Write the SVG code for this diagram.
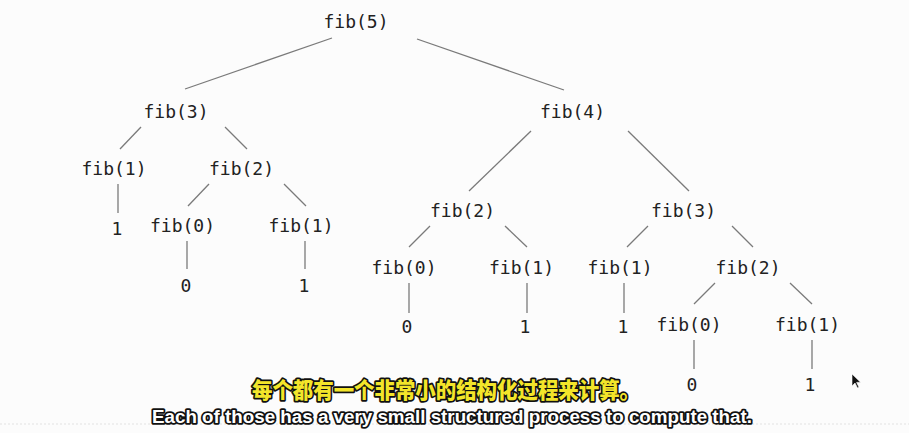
<svg xmlns="http://www.w3.org/2000/svg" width="909" height="433" viewBox="0 0 909 433">
<style>
.n{font-family:"DejaVu Sans Mono","Liberation Mono",monospace;font-size:18px;fill:#222;text-anchor:middle}
.e{stroke:#7a7a7a;stroke-width:1.3;fill:none}
.zh{font-family:"Noto Sans CJK SC","DejaVu Sans",sans-serif;font-weight:900;font-size:22px;fill:#f3e52a;stroke:#111;stroke-width:3.5;paint-order:stroke;stroke-linejoin:round;text-anchor:middle}
.en{font-family:"Liberation Sans","DejaVu Sans",sans-serif;font-weight:bold;font-size:18px;fill:#fff;stroke:#111;stroke-width:3.5;paint-order:stroke;stroke-linejoin:round;text-anchor:middle}
</style>
<rect width="909" height="433" fill="#fcfcfc"/>
<line x1="0" y1="424" x2="909" y2="424" stroke="#e2e2e2" stroke-width="1" stroke-dasharray="2,2"/>
<g id="connectors">
<line class="e" x1="332" y1="38" x2="185" y2="89"/>
<line class="e" x1="417" y1="39" x2="564" y2="90"/>
<line class="e" x1="141" y1="127" x2="120" y2="149"/>
<line class="e" x1="225" y1="127" x2="247" y2="149"/>
<line class="e" x1="118" y1="184" x2="118" y2="213"/>
<line class="e" x1="209" y1="184" x2="188" y2="206"/>
<line class="e" x1="284" y1="184" x2="306" y2="206"/>
<line class="e" x1="187" y1="241" x2="187" y2="269"/>
<line class="e" x1="305" y1="241" x2="305" y2="269"/>
<line class="e" x1="531" y1="131" x2="469" y2="191"/>
<line class="e" x1="628" y1="131" x2="689" y2="191"/>
<line class="e" x1="430" y1="226" x2="409" y2="247"/>
<line class="e" x1="505" y1="226" x2="527" y2="247"/>
<line class="e" x1="648" y1="226" x2="627" y2="247"/>
<line class="e" x1="732" y1="226" x2="753" y2="247"/>
<line class="e" x1="409" y1="283" x2="409" y2="313"/>
<line class="e" x1="527" y1="283" x2="527" y2="313"/>
<line class="e" x1="624" y1="283" x2="624" y2="313"/>
<line class="e" x1="715" y1="283" x2="694" y2="304"/>
<line class="e" x1="790" y1="283" x2="812" y2="304"/>
<line class="e" x1="694" y1="340" x2="694" y2="369"/>
<line class="e" x1="812" y1="340" x2="812" y2="369"/>
</g>
<g id="fib5"><text class="n" x="356" y="28">fib(5)</text></g>
<g id="fib3-a"><text class="n" x="176" y="118">fib(3)</text></g>
<g id="fib4"><text class="n" x="572.5" y="118">fib(4)</text></g>
<g id="fib1-a"><text class="n" x="114" y="175">fib(1)</text></g>
<g id="fib2-a"><text class="n" x="241.5" y="175">fib(2)</text></g>
<g id="leaf1-a"><text class="n" x="117" y="235">1</text></g>
<g id="fib0-a"><text class="n" x="182.5" y="232">fib(0)</text></g>
<g id="fib1-b"><text class="n" x="301" y="232">fib(1)</text></g>
<g id="leaf0-a"><text class="n" x="186" y="292">0</text></g>
<g id="leaf1-b"><text class="n" x="304" y="292">1</text></g>
<g id="fib2-b"><text class="n" x="462.5" y="217">fib(2)</text></g>
<g id="fib3-b"><text class="n" x="683.5" y="217">fib(3)</text></g>
<g id="fib0-b"><text class="n" x="404" y="274">fib(0)</text></g>
<g id="fib1-c"><text class="n" x="521.5" y="274">fib(1)</text></g>
<g id="fib1-d"><text class="n" x="620" y="274">fib(1)</text></g>
<g id="fib2-c"><text class="n" x="748" y="274">fib(2)</text></g>
<g id="leaf0-b"><text class="n" x="407" y="333">0</text></g>
<g id="leaf1-c"><text class="n" x="525" y="333">1</text></g>
<g id="leaf1-d"><text class="n" x="623" y="333">1</text></g>
<g id="fib0-c"><text class="n" x="689" y="331">fib(0)</text></g>
<g id="fib1-e"><text class="n" x="807.5" y="331">fib(1)</text></g>
<g id="leaf0-c"><text class="n" x="692" y="391">0</text></g>
<g id="leaf1-e"><text class="n" x="810" y="391">1</text></g>
<g id="subtitles">
<text class="zh" x="446" y="398" textLength="388" lengthAdjust="spacingAndGlyphs">每个都有一个非常小的结构化过程来计算。</text>
<text class="en" x="452" y="423" textLength="600" lengthAdjust="spacingAndGlyphs">Each of those has a very small structured process to compute that.</text>
</g>
<path d="M852 374 L852 386 L855 383 L857.5 388 L859 387.3 L856.6 382.4 L860.5 382.2 Z" fill="#111" stroke="#fff" stroke-width="0.6"/>
</svg>
